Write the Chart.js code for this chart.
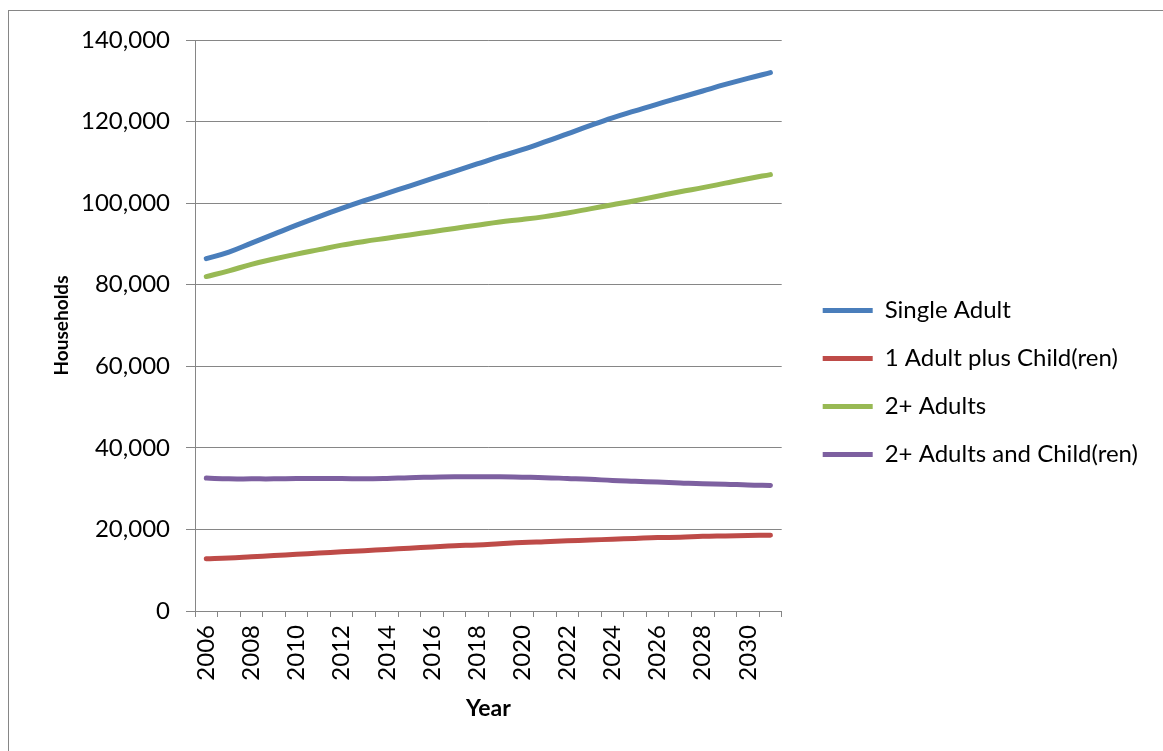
<!DOCTYPE html>
<html>
<head>
<meta charset="utf-8">
<script src="https://cdn.jsdelivr.net/npm/chart.js@4"></script>
<style>
  html, body { margin: 0; padding: 0; background: #fff; }
  #wrap { width: 1163px; height: 751px; }
</style>
</head>
<body>
<div id="wrap"><canvas id="households"></canvas></div>
<script>
const years = [2006, 2007, 2008, 2009, 2010, 2011, 2012, 2013, 2014, 2015, 2016, 2017, 2018,
    2019, 2020, 2021, 2022, 2023, 2024, 2025, 2026, 2027, 2028, 2029, 2030, 2031];

const singleAdult = [86400, 88000, 90200, 92400, 94600, 96700, 98700, 100600, 102400, 104200,
    106000, 107800, 109600, 111400, 113100, 115000, 117000, 119000, 120900, 122600,
    124300, 125900, 127500, 129100, 130600, 132000];

const oneAdultChildren = [12800, 13000, 13300, 13600, 13900, 14200, 14500, 14800, 15100, 15400,
    15700, 16000, 16200, 16500, 16800, 17000, 17200, 17400, 17600, 17800,
    18000, 18100, 18300, 18400, 18500, 18600];

const twoAdults = [82000, 83400, 85000, 86300, 87500, 88600, 89700, 90600, 91400, 92200,
    93000, 93800, 94600, 95400, 96000, 96700, 97600, 98600, 99600, 100600,
    101700, 102800, 103800, 104900, 106000, 107000];

const twoAdultsChildren = [32600, 32400, 32400, 32400, 32500, 32500, 32500, 32400, 32500, 32700,
    32800, 32900, 32900, 32900, 32800, 32700, 32500, 32300, 32000, 31800,
    31600, 31400, 31200, 31100, 30900, 30800];

const yTicks = [0, 20000, 40000, 60000, 80000, 100000, 120000, 140000];

const gridGray = '#868686';

// thin frame round the whole chart, cut off at the right and bottom like the original
const outerFrame = {
    id: 'outerFrame',
    beforeDraw(chart) {
        const { ctx } = chart;
        ctx.save();
        ctx.strokeStyle = gridGray;
        ctx.lineWidth = 1;
        ctx.strokeRect(8.5, 10.5, 1300, 900);
        ctx.restore();
    }
};

function series(label, data, color) {
    return {
        label: label,
        data: data,
        borderColor: color,
        backgroundColor: color,
        borderWidth: 5,
        borderCapStyle: 'round',
        pointRadius: 0,
        tension: 0.4,
        fill: false
    };
}

Chart.defaults.font.family = 'Lato';
Chart.defaults.font.size = 24;
Chart.defaults.color = '#000';

new Chart(document.getElementById('households'), {
    type: 'line',
    data: {
        labels: years,
        datasets: [
            series('Single Adult', singleAdult, '#4A7EBB'),
            series('1 Adult plus Child(ren)', oneAdultChildren, '#BE4B48'),
            series('2+ Adults', twoAdults, '#98B954'),
            series('2+ Adults and Child(ren)', twoAdultsChildren, '#7D60A0')
        ]
    },
    options: {
        responsive: true,
        maintainAspectRatio: false,
        animation: false,
        layout: {
            padding: { left: 0, top: 40, right: 15, bottom: 26 }
        },
        scales: {
            x: {
                type: 'category',
                offset: true,
                grid: {
                    offset: true,
                    drawOnChartArea: false,
                    tickLength: 6,
                    color: gridGray
                },
                border: { color: gridGray },
                ticks: {
                    autoSkip: false,
                    minRotation: 90,
                    maxRotation: 90,
                    padding: 8,
                    callback: function (val, i) {
                        return i % 2 === 0 ? String(years[i]) : '';
                    }
                },
                title: {
                    display: true,
                    text: 'Year',
                    font: { size: 23, weight: 'bold' },
                    padding: { top: 0, bottom: 3 }
                },
                afterFit(scale) { scale.height = 114; }
            },
            y: {
                min: 0,
                max: 140000,
                afterBuildTicks(scale) {
                    scale.ticks = yTicks.map(v => ({ value: v }));
                },
                grid: {
                    color: gridGray,
                    tickLength: 9
                },
                border: { color: gridGray },
                ticks: {
                    padding: 16,
                    callback: v => v.toLocaleString('en-US')
                },
                title: {
                    display: true,
                    text: 'Households',
                    font: { size: 19, weight: 'bold' },
                    padding: { top: 50, bottom: 0 }
                },
                afterFit(scale) { scale.width = 195; }
            },
            // empty axis that only keeps a gap between the plot and the legend
            gap: {
                type: 'linear',
                position: 'right',
                grid: { display: false },
                border: { display: false },
                ticks: { display: false },
                afterFit(scale) { scale.width = 17; }
            }
        },
        plugins: {
            legend: {
                position: 'right',
                maxWidth: 420,
                labels: {
                    usePointStyle: true,
                    pointStyle: 'line',
                    pointStyleWidth: 50,
                    padding: 24,
                    font: { size: 24 }
                }
            },
            tooltip: { enabled: false }
        }
    },
    plugins: [outerFrame]
});
</script>
</body>
</html>
